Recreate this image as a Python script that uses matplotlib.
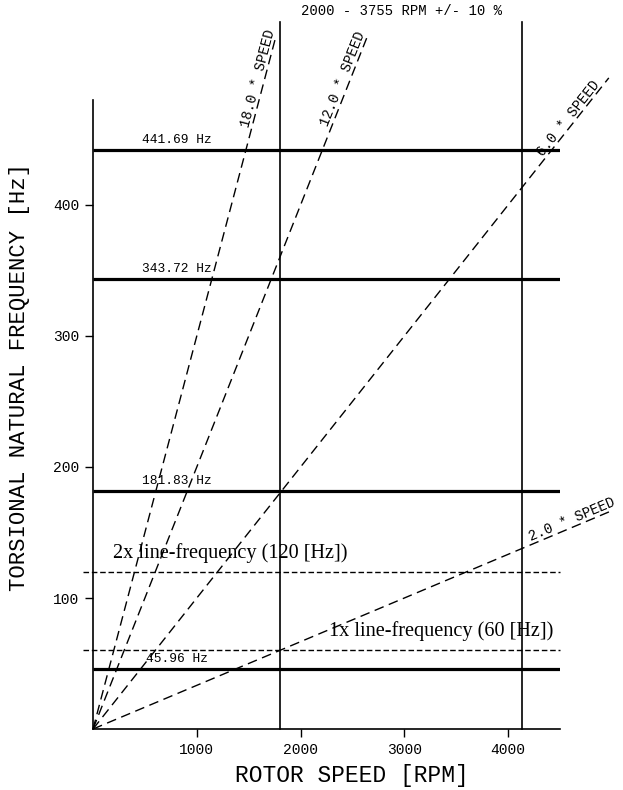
import numpy as np
import matplotlib
matplotlib.use("Agg")
import matplotlib.pyplot as plt

# natural frequencies [Hz]
nat_freqs = [441.69, 343.72, 181.83, 45.96]
# line frequency harmonics [Hz]
line_freqs = [120, 60]
line_labels = ["2x line-frequency (120 [Hz])", "1x line-frequency (60 [Hz])"]
# speed multiples and how far each ray was drawn [RPM]
orders = [18.0, 12.0, 6.0, 2.0]
order_end_rpm = [1760, 2650, 4970, 5000]
order_label_rpm = [1650, 2470, 4630, 4640]
# operating range
rpm_lo, rpm_hi = 2000, 3755
margin = 0.10

MONO = "Liberation Mono"
SERIF = "Liberation Serif"

fig = plt.figure(figsize=(6.23, 7.90), dpi=100)
ax = fig.add_axes([0.1493, 0.0772, 0.7496, 0.796])
ax.set_xlim(0, 4500)
ax.set_ylim(0, 480)

# natural frequency lines
for f in nat_freqs:
    ax.plot([0, 4500], [f, f], color="black", lw=2.3, solid_capstyle="butt")
    ax.text(810, f + 3, f"{f:.2f} Hz", family=MONO, fontsize=9.3,
            ha="center", va="bottom")

# line frequency lines
for f, lab, lx, ly in zip(line_freqs, line_labels, [190, 2270], [134, 75]):
    ax.plot([-100, 4500], [f, f], color="black", lw=1.0,
            linestyle=(0, (4, 2)), clip_on=False)
    ax.text(lx, ly, lab, family=SERIF, fontsize=14.6, ha="left", va="center")

# operating speed range
x_lo = rpm_lo * (1 - margin)
x_hi = rpm_hi * (1 + margin)
for x in [x_lo, x_hi]:
    ax.plot([x, x], [0, 540], color="black", lw=1.2, clip_on=False)
ax.text((x_lo + x_hi) / 2 + 5, 548,
        f"{rpm_lo} - {rpm_hi} RPM +/- {int(margin * 100)} %",
        family=MONO, fontsize=10, ha="center", va="center", clip_on=False)

# speed rays
for n, xe, xl in zip(orders, order_end_rpm, order_label_rpm):
    ax.plot([0, xe], [0, n * xe / 60.0], color="black", lw=1.0,
            linestyle=(0, (7, 4)), clip_on=False)
    ang = np.degrees(np.arctan2(n / 60.0, 1.0))
    ax.text(xl, n * xl / 60.0, f"{n:.1f} * SPEED", family=MONO, fontsize=10,
            rotation=ang, transform_rotates_text=True, rotation_mode="anchor",
            ha="center", va="bottom", clip_on=False)

ax.spines["top"].set_visible(False)
ax.spines["right"].set_visible(False)
for s in ["left", "bottom"]:
    ax.spines[s].set_linewidth(1.2)

ax.set_xticks([1000, 2000, 3000, 4000])
ax.set_yticks([100, 200, 300, 400])
ax.tick_params(direction="out", length=6, width=1.0, labelsize=10.5, pad=4)
for lab in ax.get_xticklabels() + ax.get_yticklabels():
    lab.set_family(MONO)

ax.set_xlabel("ROTOR SPEED [RPM]", family=MONO, fontsize=16.5)
ax.set_ylabel("TORSIONAL NATURAL FREQUENCY [Hz]", family=MONO, fontsize=16)
ax.xaxis.set_label_coords(0.555, -0.055)
ax.yaxis.set_label_coords(-0.134, 0.56)

fig.savefig("out.png", dpi=100)
